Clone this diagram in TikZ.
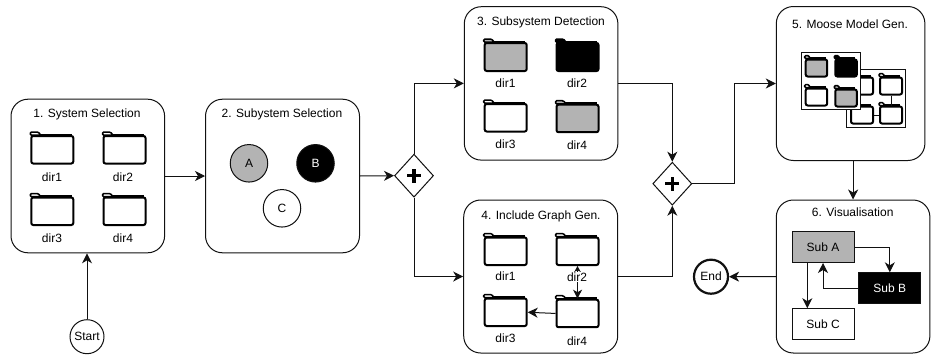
\documentclass[tikz,border=0pt]{standalone}
\usepackage{fontspec}
\setmainfont{Liberation Sans}
\usetikzlibrary{arrows.meta,shapes.geometric}
\definecolor{midgray}{HTML}{B3B3B3}
\definecolor{ink}{HTML}{111111}
\tikzset{
  x=1pt,y=-1pt,
  every node/.style={font=\fontsize{12}{14}\selectfont},
  panel/.style={draw=ink,line width=1pt,rounded corners=17pt,inner sep=0pt,fill=white},
  flow/.style={draw=ink,line width=1pt,-{Stealth[length=10pt,width=10pt,inset=3pt]}},
  thinflow/.style={draw=ink,line width=1pt},
  ball/.style={circle,draw=ink,line width=1pt,inner sep=0pt},
  gate/.style={diamond,draw=ink,line width=1pt,fill=white,inner sep=0pt,minimum width=39pt,minimum height=43pt,aspect=0.9},
  subbox/.style={rectangle,draw=ink,line width=1pt,inner sep=0pt,minimum width=62pt,minimum height=31pt},
  tile/.style={rectangle,draw=ink,line width=1pt,fill=white,inner sep=0pt},
  lab/.style={inner sep=0.4pt},
}
% name, left, tab top, width, height, fill
\newcommand{\folder}[6]{%
  \fill[#6,draw=black,line width=1.5pt,rounded corners=1.2pt]
    (#2,#3+3.2) -- (#2,#3) -- (#2+#4*0.19,#3) -- (#2+#4*0.25,#3+3.2) -- cycle;
  \node[rectangle,draw=black,fill=#6,line width=2pt,rounded corners=2pt,inner sep=0pt,anchor=north west,
        minimum width=#4 pt,minimum height=#5 pt - 3pt] (#1) at (#2,#3+3) {};
  \draw[black,line width=2.8pt] (#2+#4*0.2,#3+3) -- (#2+#4-0.6,#3+3);
}
\newcommand{\plus}[1]{%
  \draw[black,line width=3.2pt] ([xshift=-7pt]#1.center) -- ([xshift=7pt]#1.center);
  \draw[black,line width=3.2pt] ([yshift=-7pt]#1.center) -- ([yshift=7pt]#1.center);
}
\begin{document}
\begin{tikzpicture}
\useasboundingbox (0,0) rectangle (935,356);
% panels
\node[panel,minimum width=153.6pt,minimum height=153.6pt] (p1) at (87.8,176) {};
\node[panel,minimum width=154pt,minimum height=153.6pt] (p2) at (282.5,176) {};
\node[panel,minimum width=153.6pt,minimum height=153.4pt] (p3) at (541.1,83.4) {};
\node[panel,minimum width=154pt,minimum height=153pt] (p4) at (540.7,276.5) {};
\node[panel,minimum width=148.6pt,minimum height=154pt] (p5) at (850.6,83.5) {};
\node[panel,minimum width=153.6pt,minimum height=153pt] (p6) at (853.1,276.5) {};
% titles
\node at (87,114) {1. System Selection};
\node at (282,114) {2. Subystem Selection};
\node at (541,22) {3. Subsystem Detection};
\node at (541,216) {4. Include Graph Gen.};
\node at (850,24) {5. Moose Model Gen.};
\node at (852.7,212) {6. Visualisation};
% gates and terminals
\node[gate] (g1) at (414,175.7) {};
\node[gate] (g2) at (672.3,183.7) {};
\plus{g1}\plus{g2}
\node[ball,minimum size=34pt,fill=white] (start) at (87,336.7) {Start};
\node[ball,minimum size=34pt,line width=2.2pt,fill=white] (end) at (711,276.7) {End};
% panel 1
\folder{a1}{30.3}{132}{42}{30.5}{white}
\folder{a2}{102.5}{132}{42}{30.5}{white}
\folder{a3}{30.3}{193.5}{42}{30.5}{white}
\folder{a4}{102.5}{193.5}{42}{30.5}{white}
\node at (52,177) {dir1};
\node at (123,177) {dir2};
\node at (52,238) {dir3};
\node at (123,238) {dir4};
% panel 2
\node[ball,minimum size=37.5pt,fill=midgray] (ca) at (249,163.3) {A};
\node[ball,minimum size=37.5pt,fill=black,text=white] (cb) at (315.5,163.3) {B};
\node[ball,minimum size=37.5pt,fill=white] (cc) at (282,208.3) {C};
% panel 3
\folder{b1}{483.7}{39}{42}{31}{midgray}
\folder{b2}{555.5}{39}{42}{31}{black}
\folder{b3}{483.7}{100}{42}{30.5}{white}
\folder{b4}{555.5}{100.7}{42}{30.5}{midgray}
\node at (505.5,83) {dir1};
\node at (577,83) {dir2};
\node at (505.5,144) {dir3};
\node at (577,145) {dir4};
% panel 4
\folder{c1}{483.7}{233.5}{42}{30.5}{white}
\folder{c2}{555.5}{233.5}{42}{30.5}{white}
\folder{c3}{483.7}{294.5}{42}{30.5}{white}
\folder{c4}{555.5}{295.7}{42}{30.5}{white}
\draw[thinflow,{Stealth[length=6pt,width=6.5pt,inset=1.8pt]}-{Stealth[length=9pt,width=9pt,inset=2.5pt]}] (c2.south) -- (c4.north);
\draw[flow] (c4.west) -- (c3.east);
\node at (505.5,276.5) {dir1};
\node[fill=white,lab] at (577,277) {dir2};
\node at (505.5,338) {dir3};
\node at (577,341) {dir4};
% panel 5
\node[tile,anchor=north west,minimum width=59pt,minimum height=58pt] (t2) at (846,69.3) {};
\folder{e1}{850}{73.5}{22}{20}{white}
\folder{e2}{879}{73.5}{22}{20}{white}
\folder{e3}{850}{102.5}{22}{20}{white}
\folder{e4}{879}{102.5}{22}{20}{white}
\draw[thinflow] (e2.south) -- (e4.north);
\draw[thinflow] (e3.east) -- (e4.west);
\node[tile,anchor=north west,minimum width=59.3pt,minimum height=57.6pt] (t1) at (800.7,51.7) {};
\folder{d1}{804.7}{55.5}{21.5}{20}{midgray}
\folder{d2}{834.3}{55.5}{21.5}{20}{black}
\folder{d3}{804.7}{84.5}{21.5}{20}{white}
\folder{d4}{834.3}{85.5}{21.5}{20}{midgray}
% panel 6
\node[subbox,fill=midgray] (sa) at (823,247) {Sub A};
\node[subbox,fill=black,text=white] (sb) at (889.8,288.3) {Sub B};
\node[subbox,fill=white] (sc) at (823,324.2) {Sub C};
\draw[flow] (sa.east) -| (sb.north);
\draw[flow] (sb.west) -| (sa.south);
\coordinate (sax) at (807.3,262.5);
\draw[flow] (sax) -- (sax |- sc.north);
% main flow
\draw[flow] (start.north) -- (start.north |- p1.south);
\draw[flow] (p1.east) -- (p2.west);
\draw[flow] (p2.east) -- (g1.west);
\draw[flow] (g1.north) |- (p3.west);
\draw[flow] (g1.south) |- (p4.west);
\draw[flow] (p3.east) -| (g2.north);
\draw[flow] (p4.east) -| (g2.south);
\draw[flow] (g2.east) -- (734,183.7) |- (p5.west);
\draw[flow] (p6.north |- p5.south) -- (p6.north);
\draw[flow] (p6.west) -- (end.east);
\end{tikzpicture}
\end{document}
